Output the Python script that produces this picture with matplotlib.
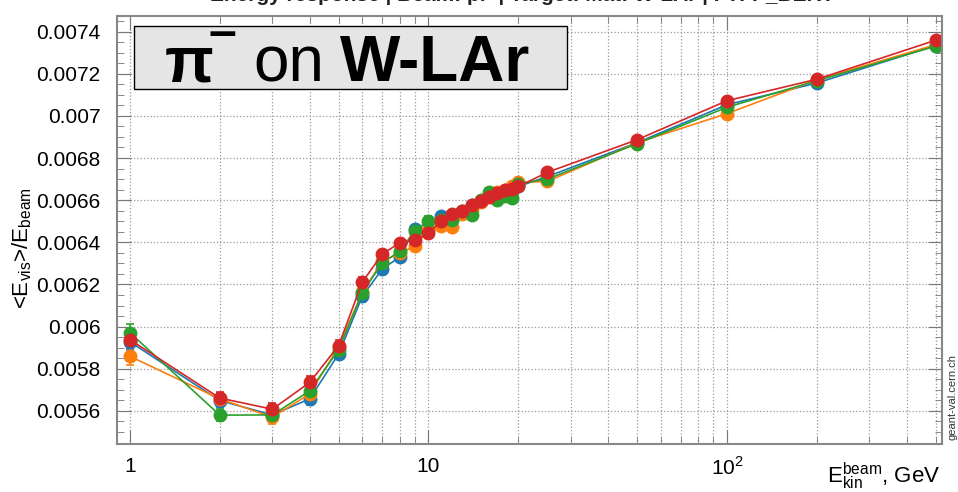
import matplotlib
matplotlib.use("Agg")
import matplotlib.pyplot as plt
from matplotlib.patches import Rectangle
from matplotlib.ticker import FixedLocator, MultipleLocator, NullFormatter

plt.rcParams['font.family'] = ['Liberation Sans', 'DejaVu Sans']
plt.rcParams['mathtext.fontset'] = 'custom'
plt.rcParams['mathtext.rm'] = 'Liberation Sans'

# beam kinetic energy, GeV
energy = [1, 2, 3, 4, 5, 6, 7, 8, 9, 10, 11, 12, 13, 14, 15, 16, 17, 18, 19, 20,
          25, 50, 100, 200, 500]

resp_blue = [0.005928, 0.005649, 0.005581, 0.005657, 0.005870, 0.006143, 0.006273,
             0.006330, 0.006463, 0.006460, 0.006523, 0.006517, 0.006545, 0.006579,
             0.006595, 0.006625, 0.006630, 0.006640, 0.006645, 0.006665, 0.006712,
             0.006873, 0.007053, 0.007156, 0.007334]
resp_orange = [0.005859, 0.005657, 0.005570, 0.005681, 0.005903, 0.006162, 0.006310,
               0.006349, 0.006381, 0.006460, 0.006479, 0.006473, 0.006535, 0.006555,
               0.006590, 0.006620, 0.006640, 0.006650, 0.006665, 0.006684, 0.006689,
               0.006873, 0.007011, 0.007171, 0.007338]
resp_green = [0.005971, 0.005580, 0.005581, 0.005695, 0.005890, 0.006161, 0.006302,
              0.006357, 0.006455, 0.006503, 0.006507, 0.006507, 0.006547, 0.006531,
              0.006600, 0.006640, 0.006602, 0.006618, 0.006610, 0.006678, 0.006700,
              0.006868, 0.007041, 0.007167, 0.007331]
resp_red = [0.005938, 0.005661, 0.005608, 0.005735, 0.005910, 0.006211, 0.006344,
            0.006397, 0.006412, 0.006444, 0.006499, 0.006534, 0.006550, 0.006579,
            0.006598, 0.006615, 0.006634, 0.006646, 0.006653, 0.006665, 0.006732,
            0.006887, 0.007072, 0.007174, 0.007359]
resp_err = [0.00004, 0.00003, 0.00003, 0.00003, 0.000025, 0.000025, 0.00002, 0.00002,
            0.00002, 0.00002, 0.00002, 0.00002, 0.000015, 0.000015, 0.000015, 0.000015,
            0.000015, 0.000015, 0.000015, 0.000015, 0.000015, 0.000015, 0.000015,
            0.000015, 0.000015]

x_major = [1, 10, 100]
x_labels = ['1', '10', '10$^{2}$']

W, H = 958, 492
fig = plt.figure(figsize=(W / 100, H / 100), dpi=100)
ax = fig.add_axes([117 / W, 1 - 444 / H, (942 - 117) / W, (444 - 16) / H])

for vals, col in [(resp_blue, '#1f77b4'), (resp_orange, '#ff7f0e'),
                  (resp_green, '#2ca02c'), (resp_red, '#d62728')]:
    ax.errorbar(energy, vals, yerr=resp_err, color=col, marker='o', ms=9, lw=1.2,
                elinewidth=1.2, capsize=3, capthick=1.2)

ax.set_xscale('log')
ax.set_xlim(0.905, 525)
ax.set_ylim(0.005443, 0.007474)

ax.xaxis.set_major_locator(FixedLocator(x_major))
ax.set_xticklabels(x_labels)
ax.xaxis.set_minor_locator(FixedLocator([2, 3, 4, 5, 6, 7, 8, 9, 20, 30, 40, 50, 60,
                                         70, 80, 90, 200, 300, 400, 500]))
ax.xaxis.set_minor_formatter(NullFormatter())
ax.yaxis.set_major_locator(MultipleLocator(0.0002))
ax.yaxis.set_minor_locator(MultipleLocator(0.00005))
ax.set_yticklabels([f'{v:g}' for v in ax.get_yticks()])

ax.tick_params(which='both', direction='in', top=True, right=True, colors='#777777',
               labelcolor='black', labelsize=15)
ax.tick_params(which='major', length=10)
ax.tick_params(which='minor', length=5)
ax.tick_params(axis='y', pad=12)
ax.tick_params(axis='x', pad=9)

ax.grid(which='major', axis='both', color='#999999', ls=':', lw=0.9)
ax.grid(which='minor', axis='x', color='#999999', ls=':', lw=0.9)
for s in ax.spines.values():
    s.set_color('#888888')
    s.set_linewidth(1.5)

# axis titles
fig.text(22 / W, 1 - 248 / H, r'<E$_{\rm vis}$>/E$_{\rm beam}$', rotation=90,
         ha='center', va='center', fontsize=16)
fig.text(940 / W, 1 - 483 / H, r'E$^{\rm beam}_{\rm kin}$, GeV', ha='right',
         va='baseline', fontsize=16)

# run title, mostly above the top edge
fig.text(522 / W, 1 - 1 / H,
         'Energy response | Beam: pi- | Target: Mat: W-LAr | FTFP_BERT',
         ha='center', va='baseline', fontsize=15, fontweight='bold', color='#222222')

fig.text(952 / W, 1 - 440 / H, 'geant-val.cern.ch', rotation=90, ha='center',
         va='bottom', fontsize=8, color='#333333')

# particle / target label box
fig.patches.append(Rectangle((134 / W, 1 - 89 / H), 433 / W, 63 / H,
                             transform=fig.transFigure, facecolor='#e5e5e5',
                             edgecolor='black', lw=1))
base = 1 - 81 / H
fig.text(165 / W, base, 'π', fontsize=46, fontweight='bold', va='baseline')
fig.text(209 / W, 1 - 47 / H, '\u2013', fontsize=36, fontweight='bold', va='baseline')
fig.text(253 / W, base, 'on', fontsize=46, va='baseline')
fig.text(340 / W, base, 'W-LAr', fontsize=46, fontweight='bold', va='baseline')

fig.savefig('out.png', dpi=100)
